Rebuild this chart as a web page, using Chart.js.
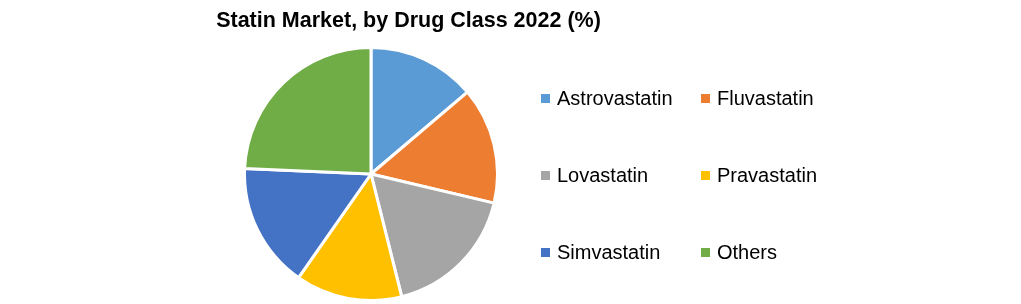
<!DOCTYPE html>
<html>
<head>
<meta charset="utf-8">
<script src="https://cdn.jsdelivr.net/npm/chart.js@4.4.0/dist/chart.umd.min.js"></script>
<style>
  html, body { margin: 0; padding: 0; background: #fff; }
  #wrap { position: relative; width: 1021px; height: 304px; overflow: hidden; }
  #title {
    position: absolute; left: 0; top: 8px; width: 817px; text-align: center;
    font: bold 21.5px "Liberation Sans", Arial, sans-serif; color: #000;
  }
  .leg { position: absolute; font: 20px "Liberation Sans", Arial, sans-serif; color: #000; white-space: nowrap; line-height: 22px; }
  .leg i { display: inline-block; width: 9px; height: 9px; margin-right: 7px; vertical-align: 2px; }
</style>
</head>
<body>
<div id="wrap">
  <canvas id="pie" width="1021" height="304"></canvas>
  <div id="title"></div>
</div>
<script>
const chartTitle = 'Statin Market, by Drug Class 2022 (%)';
const drugClasses = ['Astrovastatin', 'Fluvastatin', 'Lovastatin', 'Pravastatin', 'Simvastatin', 'Others'];
const shares = [13.8, 14.9, 17.4, 13.6, 16.0, 24.3];
const sliceColors = ['#5B9BD5', '#ED7D31', '#A5A5A5', '#FFC000', '#4472C4', '#70AD47'];

document.getElementById('title').textContent = chartTitle;

// legend: 2 columns, 3 rows
const wrap = document.getElementById('wrap');
drugClasses.forEach((name, i) => {
    const el = document.createElement('div');
    el.className = 'leg';
    el.style.left = (i % 2 === 0 ? 541 : 701) + 'px';
    el.style.top = (87 + Math.floor(i / 2) * 77) + 'px';
    el.innerHTML = '<i style="background:' + sliceColors[i] + '"></i>' + name;
    wrap.appendChild(el);
});

const ctx = document.getElementById('pie').getContext('2d');
new Chart(ctx, {
    type: 'pie',
    data: {
        labels: drugClasses,
        datasets: [{
            data: shares,
            backgroundColor: sliceColors,
            borderColor: '#ffffff',
            borderWidth: 3,
        }],
    },
    options: {
        responsive: false,
        animation: false,
        layout: {
            padding: { left: 243, right: 522, top: 45, bottom: 1 },
        },
        plugins: {
            legend: { display: false },
            title: { display: false },
            tooltip: { enabled: false },
        },
    },
});
</script>
</body>
</html>
